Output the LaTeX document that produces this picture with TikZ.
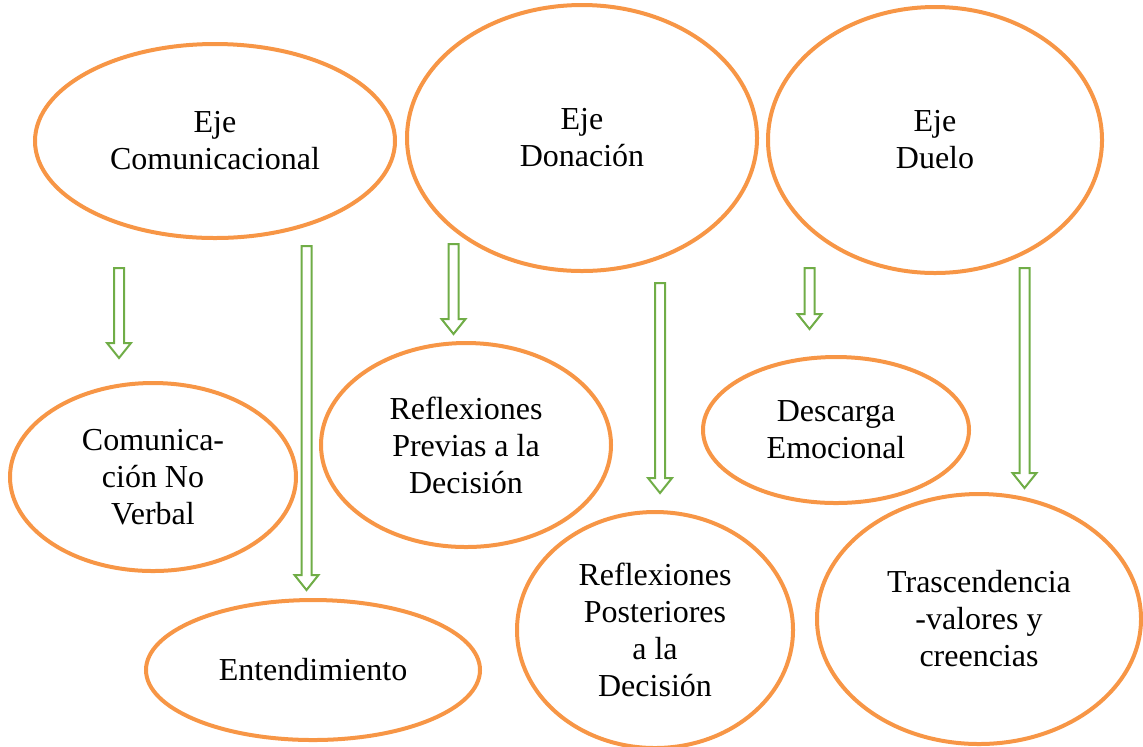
\documentclass[tikz,border=0pt]{standalone}
\usepackage{fontspec}
\setmainfont{Liberation Serif}
\usetikzlibrary{shapes.geometric}
\tikzset{
  eje/.style={ellipse,draw=kOrange,line width=2pt,inner sep=0pt,align=center,
    font=\fontsize{16}{18.5}\selectfont},
  flecha/.style={draw=kGreen,line width=1pt,fill=white}
}
\begin{document}
\begin{tikzpicture}[x=0.5pt,y=-0.5pt]
  % colors
  \definecolor{kOrange}{RGB}{247,150,70}
  \definecolor{kGreen}{RGB}{112,173,71}
  \useasboundingbox (0,0) rectangle (1143,746);
  % ejes
  \node[eje,minimum width=180pt,minimum height=97pt] (ejeCom) at (215,141) {Eje\\Comunicacional};
  \node[eje,minimum width=175pt,minimum height=133pt] (ejeDon) at (582,138) {Eje\\Donación};
  \node[eje,minimum width=167pt,minimum height=133pt] (ejeDue) at (935,140) {Eje\\Duelo};
  % categorias
  \node[eje,minimum width=143pt,minimum height=94pt] (noVerbal) at (153,477) {Comunica-\\ción No\\Verbal};
  \node[eje,minimum width=167pt,minimum height=70pt] (entend) at (313,670) {Entendimiento};
  \node[eje,minimum width=145pt,minimum height=102pt] (previas) at (466,445) {Reflexiones\\Previas a la\\Decisión};
  \node[eje,minimum width=138pt,minimum height=118pt] (posteriores) at (655,630) {Reflexiones\\Posteriores\\a la\\Decisión};
  \node[eje,minimum width=133pt,minimum height=73pt] (descarga) at (836,430) {Descarga\\Emocional};
  \node[eje,minimum width=162pt,minimum height=125pt] (trasc) at (979,619) {Trascendencia\\-valores y\\creencias};
  % block arrows
  \foreach \x/\t/\b in {119/268/358, 306.5/246/590, 453.5/244/334, 660/283/493, 809.5/268/329, 1024.5/268/488} {
    \draw[flecha] (\x-5,\t) -- (\x+5,\t) -- (\x+5,\b-15) -- (\x+12,\b-15) -- (\x,\b)
      -- (\x-12,\b-15) -- (\x-5,\b-15) -- cycle;
  };
\end{tikzpicture}
\end{document}
